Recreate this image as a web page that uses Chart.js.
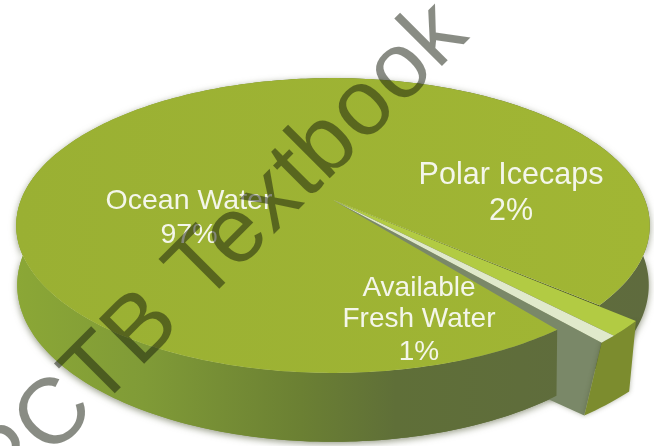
<!DOCTYPE html>
<html>
<head>
<meta charset="utf-8">
<style>
  html, body { margin: 0; padding: 0; background: #fff; }
  canvas { display: block; filter: blur(0.5px); }
</style>
<script src="https://cdn.jsdelivr.net/npm/chart.js@4"></script>
</head>
<body>
<canvas id="waterChart" width="654" height="446"></canvas>
<script>
const categories = ['Ocean Water', 'Polar Icecaps', 'Available Fresh Water'];
const shareValues = [97, 2, 1];
const sliceColors = ['#9db431', '#b2cb43', '#e0e9cb'];
const labelLines = [
  ['Ocean Water', '97%'],
  ['Polar Icecaps', '2%'],
  ['Available', 'Fresh Water', '1%']
];
const watermark = 'PCTB Textbook';

// perspective of the top face, the base of the disc and the base of the thin slices
const TOP = { x: 333, y: 200, a: 312, b: 143 };
const BASE = { x: 333, y: 258, a: 311, b: 152 };
const SLICE_BASE = { x: 233, y: 256, a: 408, b: 160 };
const TILT = 0.173;
const D = Math.PI / 180;

function project(plane, angle, r) {
  const u = Math.cos(angle) * r;
  const v = Math.sin(angle) * r;
  const t = 1 / (1 - TILT * v);
  return [plane.x + plane.a * u * t, plane.y + plane.b * v * t];
}

function rimPoints(plane, a0, a1, r) {
  const n = Math.max(2, Math.ceil(Math.abs(a1 - a0) / D));
  const pts = [];
  for (let i = 0; i <= n; i++) pts.push(project(plane, a0 + (a1 - a0) * i / n, r));
  return pts;
}

function fillPoly(ctx, pts, fill) {
  ctx.beginPath();
  pts.forEach((p, i) => (i ? ctx.lineTo(p[0], p[1]) : ctx.moveTo(p[0], p[1])));
  ctx.closePath();
  ctx.fillStyle = fill;
  ctx.fill();
}

function wall(ctx, base, a0, a1, r, fill) {
  const pts = rimPoints(TOP, a0, a1, r).concat(rimPoints(base, a1, a0, r));
  fillPoly(ctx, pts, fill);
}

function cutFace(ctx, base, angle, r, fill) {
  fillPoly(ctx, [project(TOP, 0, 0), project(TOP, angle, r), project(base, angle, r), project(base, 0, 0)], fill);
}

function topFace(ctx, a0, a1, r, fill) {
  fillPoly(ctx, [project(TOP, 0, 0)].concat(rimPoints(TOP, a0, a1, r)), fill);
}

const perspectivePie = {
  id: 'perspectivePie',
  beforeDatasetsDraw(chart) {
    const ctx = chart.ctx;
    const arcs = chart.getDatasetMeta(0).data;
    const ocean = arcs[0];
    const polar = arcs[1];
    const fresh = arcs[2];
    const reach = (polar.outerRadius + polar.options.offset) / polar.outerRadius;

    // the two thin slices sit a little narrower than their gap
    const groupStart = polar.startAngle;
    const squeeze = (a) => groupStart + 0.3 * D + (a - groupStart) * 0.75;
    const polarA0 = squeeze(polar.startAngle);
    const polarA1 = squeeze(polar.endAngle);
    const freshA1 = squeeze(fresh.endAngle);

    const wallFill = ctx.createLinearGradient(17, 0, 648, 0);
    wallFill.addColorStop(0, '#8ba736');
    wallFill.addColorStop(0.2, '#809b37');
    wallFill.addColorStop(0.45, '#6b8033');
    wallFill.addColorStop(0.6, '#5f6f38');
    wallFill.addColorStop(1, '#5f6b3e');

    ctx.save();
    ctx.shadowColor = 'rgba(60,70,30,0.55)';
    ctx.shadowBlur = 7;
    ctx.shadowOffsetY = 2;
    wall(ctx, BASE, ocean.startAngle, ocean.endAngle, 1, wallFill);
    ctx.restore();

    cutFace(ctx, BASE, ocean.endAngle, 1, '#4d5a2b');
    ctx.save();
    ctx.shadowColor = 'rgba(60,70,30,0.4)';
    ctx.shadowBlur = 5;
    cutFace(ctx, SLICE_BASE, freshA1, reach, '#7a8868');
    wall(ctx, SLICE_BASE, polarA0, freshA1, reach, '#7c8c2e');
    ctx.restore();

    // near side of the disc hides the cut face of the slices
    wall(ctx, BASE, ocean.startAngle, 200 * D, 1, wallFill);

    const topFill = ctx.createLinearGradient(17, 0, 648, 0);
    topFill.addColorStop(0, '#9ab033');
    topFill.addColorStop(1, '#a1b634');
    topFace(ctx, ocean.startAngle, ocean.endAngle, 1, topFill);
    topFace(ctx, polarA0, polarA1, reach, polar.options.backgroundColor);
    topFace(ctx, polarA1, freshA1, reach, fresh.options.backgroundColor);
    return false;
  },
  afterDraw(chart) {
    const ctx = chart.ctx;
    const centers = [[189, [201, 235]], [511, [176, 212]], [419, [288, 319, 352]]];
    const sizes = [28.5, 30.5, 28];
    ctx.save();
    ctx.fillStyle = '#f4f6ea';
    ctx.textAlign = 'center';
    ctx.textBaseline = 'middle';
    labelLines.forEach((lines, i) => {
      ctx.font = sizes[i] + 'px "Liberation Sans"';
      lines.forEach((line, j) => ctx.fillText(line, centers[i][0], centers[i][1][j]));
    });
    ctx.restore();

    // watermark runs across everything
    ctx.save();
    ctx.translate(5, 503);
    ctx.rotate(-45 * D);
    ctx.font = '93px "Liberation Sans"';
    ctx.letterSpacing = '1px';
    ctx.fillStyle = 'rgba(20,25,10,0.5)';
    ctx.textAlign = 'left';
    ctx.textBaseline = 'alphabetic';
    ctx.fillText(watermark, 0, 0);
    ctx.restore();
  }
};

new Chart(document.getElementById('waterChart').getContext('2d'), {
  type: 'pie',
  data: {
    labels: categories,
    datasets: [{
      data: shareValues,
      backgroundColor: sliceColors,
      borderWidth: 0,
      offset: [0, 26, 26]
    }]
  },
  options: {
    responsive: false,
    animation: false,
    rotation: 141.6,
    layout: { padding: 0 },
    plugins: { legend: { display: false }, tooltip: { enabled: false } }
  },
  plugins: [perspectivePie]
});
</script>
</body>
</html>
